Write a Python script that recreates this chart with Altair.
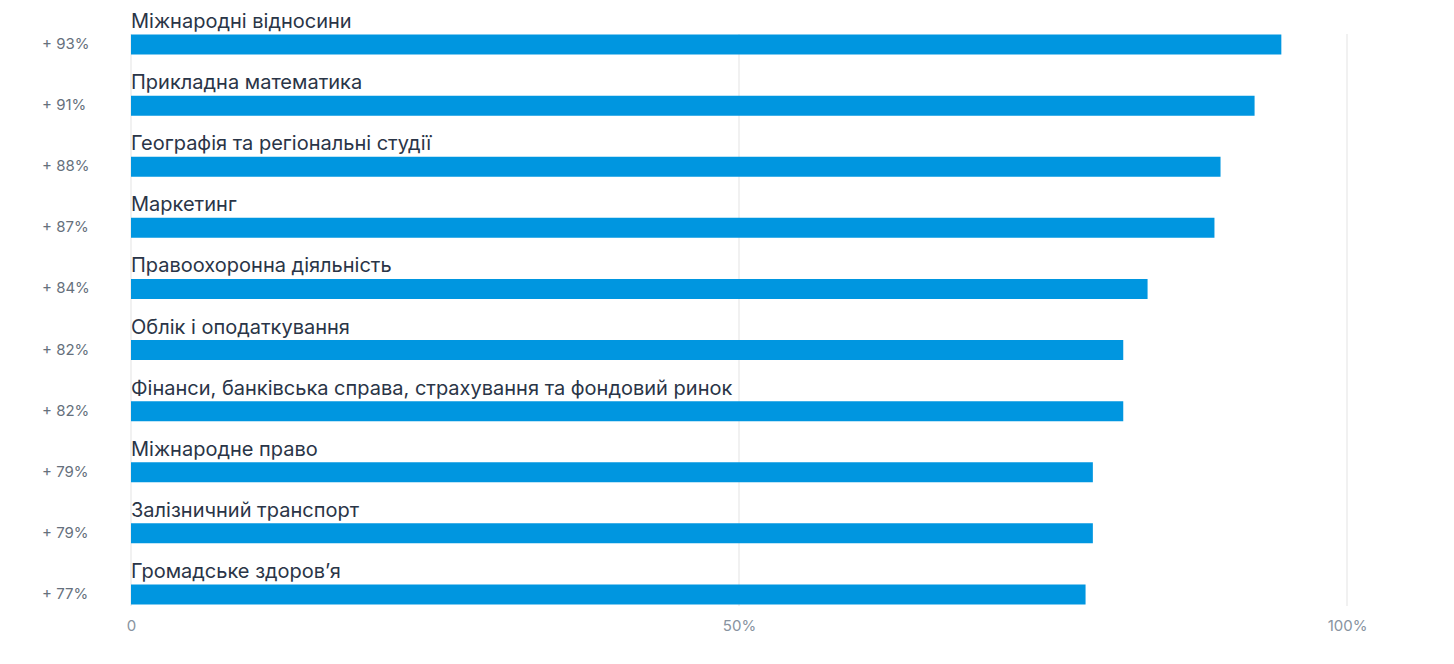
import altair as alt
import pandas as pd

categories = [
    "Міжнародні відносини",
    "Прикладна математика",
    "Географія та регіональні студії",
    "Маркетинг",
    "Правоохоронна діяльність",
    "Облік і оподаткування",
    "Фінанси, банківська справа, страхування та фондовий ринок",
    "Міжнародне право",
    "Залізничний транспорт",
    "Громадське здоров’я",
]
values = [94.6, 92.4, 89.6, 89.1, 83.6, 81.6, 81.6, 79.1, 79.1, 78.5]
value_labels = ["+ 93%", "+ 91%", "+ 88%", "+ 87%", "+ 84%",
                "+ 82%", "+ 82%", "+ 79%", "+ 79%", "+ 77%"]
grid_ticks = [0, 50, 100]

df = pd.DataFrame({"cat": categories, "value": values, "label": value_labels})
grid_df = pd.DataFrame({"g": grid_ticks})

BAR = "#0096e0"
FONT = "Inter"

y_enc = alt.Y("cat:N", sort=categories, axis=None,
              scale=alt.Scale(paddingInner=0, paddingOuter=0))
x_scale = alt.Scale(domain=[0, 100], nice=False, zero=True)

grid = alt.Chart(grid_df).mark_rule(color="#e3e3e3", strokeWidth=1).encode(
    x=alt.X("g:Q", scale=x_scale,
            axis=alt.Axis(values=grid_ticks, grid=False, domain=False, ticks=False,
                          labelExpr="datum.value == 0 ? '0' : datum.value + '%'",
                          labelFont=FONT, labelFontSize=15,
                          labelColor="#8893a0", labelPadding=-1, labelFlush=False,
                          title=None)),
    y=alt.value(26),
    y2=alt.value(598),
)

bars = alt.Chart(df).mark_bar(height=20, yOffset=6, color=BAR).encode(
    x=alt.X("value:Q", scale=x_scale),
    y=y_enc,
)

names = alt.Chart(df).mark_text(
    align="left", baseline="alphabetic", dy=-10.5,
    font=FONT, fontSize=20, color="#2a3547",
).encode(
    x=alt.value(0),
    y=y_enc,
    text="cat:N",
)

left = alt.Chart(df).mark_text(
    align="left", baseline="middle", dy=5.5,
    font=FONT, fontSize=15, color="#66707c",
).encode(
    x=alt.value(-89),
    y=y_enc,
    text="label:N",
)

chart = alt.layer(grid, bars, names, left).properties(
    width=1216,
    height=611,
    background="white",
    autosize=alt.AutoSizeParams(type="none"),
    padding={"left": 123, "top": 0, "right": 90, "bottom": 30},
).configure_view(strokeWidth=0, stroke="transparent").configure_axis(grid=False)

chart.save("out.html", embed_options={"renderer": "svg", "actions": False})
